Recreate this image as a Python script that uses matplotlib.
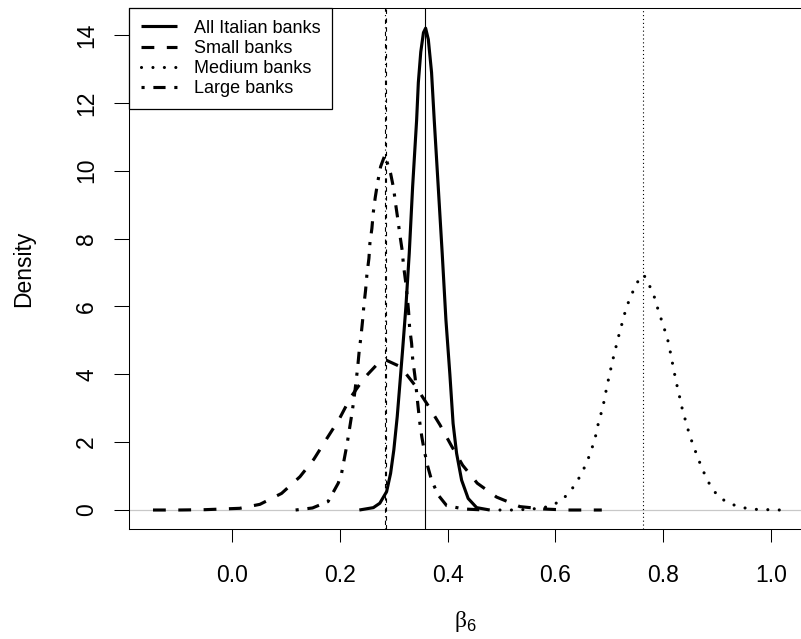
import matplotlib
matplotlib.use("Agg")
import matplotlib.pyplot as plt

plt.rcParams['font.family'] = ['Liberation Sans', 'DejaVu Sans']
plt.rcParams['mathtext.fontset'] = 'custom'
plt.rcParams['mathtext.rm'] = 'Liberation Serif'
plt.rcParams['mathtext.sf'] = 'Liberation Sans'

# posterior densities of beta_6
all_x = [0.236, 0.262, 0.274, 0.2866, 0.294, 0.300, 0.3063, 0.3113, 0.3163, 0.3224,
         0.3286, 0.3349, 0.3423, 0.3455, 0.350, 0.355, 0.359, 0.364, 0.370, 0.375,
         0.3824, 0.3898, 0.3967, 0.404, 0.410, 0.4165, 0.4258, 0.438, 0.4537, 0.478]
all_y = [0.0, 0.07, 0.20, 0.54, 1.08, 1.77, 2.75, 3.73, 4.72, 5.99,
         7.56, 9.53, 11.49, 12.6, 13.5, 14.07, 14.2, 13.87, 12.9, 11.49,
         9.53, 7.56, 5.6, 4.0, 2.55, 1.67, 0.88, 0.34, 0.07, 0.0]

small_x = [-0.147, -0.10, -0.05, 0.014, 0.0514, 0.0917, 0.1257, 0.1517, 0.175, 0.1987,
           0.2198, 0.2445, 0.273, 0.2853, 0.3126, 0.339, 0.364, 0.3856, 0.407, 0.4277,
           0.4548, 0.4908, 0.534, 0.5786, 0.62, 0.686]
small_y = [0.0, 0.0, 0.01, 0.05, 0.167, 0.49, 0.98, 1.50, 2.09, 2.68,
           3.32, 3.88, 4.36, 4.42, 4.22, 3.68, 3.07, 2.51, 1.89, 1.32,
           0.79, 0.38, 0.10, 0.03, 0.0, 0.0]

medium_x = [0.497, 0.521, 0.55, 0.575, 0.593, 0.612, 0.627, 0.640, 0.650, 0.659,
            0.666, 0.673, 0.677, 0.682, 0.688, 0.692, 0.696, 0.7006, 0.705, 0.710,
            0.715, 0.720, 0.726, 0.731, 0.739, 0.747, 0.758, 0.764, 0.773, 0.782,
            0.788, 0.7945, 0.801, 0.8075, 0.812, 0.816, 0.820, 0.824, 0.829, 0.833,
            0.8385, 0.844, 0.850, 0.857, 0.8645, 0.872, 0.881, 0.891, 0.905, 0.925,
            0.947, 0.970, 0.994, 1.017]
medium_y = [0.0, 0.0, 0.02, 0.06, 0.13, 0.295, 0.54, 0.835, 1.13, 1.43,
            1.75, 2.06, 2.39, 2.70, 3.03, 3.36, 3.68, 4.01, 4.33, 4.66,
            4.98, 5.30, 5.63, 5.95, 6.26, 6.56, 6.88, 6.93, 6.66, 6.36,
            6.03, 5.71, 5.39, 5.08, 4.75, 4.42, 4.10, 3.77, 3.45, 3.12,
            2.80, 2.48, 2.16, 1.85, 1.53, 1.23, 0.91, 0.62, 0.36, 0.18,
            0.07, 0.02, 0.01, 0.0]

large_x = [0.1177, 0.149, 0.178, 0.1968, 0.203, 0.2135, 0.2228, 0.2265, 0.230, 0.233,
           0.2358, 0.239, 0.242, 0.2445, 0.2476, 0.250, 0.2538, 0.2556, 0.2593, 0.2618,
           0.2655, 0.270, 0.2755, 0.2834, 0.294, 0.2996, 0.3033, 0.3076, 0.3113, 0.3156,
           0.318, 0.3219, 0.3249, 0.3274, 0.3293, 0.333, 0.3349, 0.3395, 0.344, 0.348,
           0.352, 0.356, 0.3627, 0.370, 0.3824, 0.398, 0.430, 0.47]
large_y = [0.0, 0.06, 0.25, 0.79, 1.08, 1.97, 2.90, 3.34, 3.80, 4.22,
           4.70, 5.11, 5.58, 6.04, 6.48, 6.93, 7.42, 7.86, 8.30, 8.76,
           9.21, 9.66, 10.12, 10.46, 9.92, 9.48, 9.02, 8.55, 8.10, 7.64,
           7.20, 6.73, 6.29, 5.85, 5.38, 4.91, 4.47, 3.90, 3.20, 2.60,
           2.15, 1.79, 1.30, 0.88, 0.44, 0.13, 0.03, 0.0]

labels = ['All Italian banks', 'Small banks', 'Medium banks', 'Large banks']
means = [0.3585, 0.2850, 0.7620, 0.2840]   # vertical reference lines

xticks = [0.0, 0.2, 0.4, 0.6, 0.8, 1.0]
yticks = [0, 2, 4, 6, 8, 10, 12, 14]

curve_styles = ['-', (0, (4.1, 4.0)), (0, (0.01, 3.65)), (0, (1.0, 2.8, 3.9, 2.8))]
vline_styles = ['-', (0, (4, 4)), (0, (1, 2.5)), (0, (1, 3, 4, 3))]

fig = plt.figure(figsize=(8.01, 6.39), dpi=100)
ax = fig.add_axes([0.1614, 0.1726, 0.8398, 0.8149])

ax.axhline(0, color='#c8c8c8', lw=0.9, zorder=1)

series = [(all_x, all_y), (small_x, small_y), (medium_x, medium_y), (large_x, large_y)]
for (xs, ys), lab, ls in zip(series, labels, curve_styles):
    cap = 'round' if ls == curve_styles[2] else 'butt'
    ax.plot(xs, ys, color='black', lw=2.25, linestyle=ls, label=lab,
            dash_capstyle=cap, solid_capstyle='butt', zorder=3)

for m, ls in zip(means, vline_styles):
    ax.axvline(m, color='black', lw=0.8, linestyle=ls, zorder=4)

ax.set_xlim(-0.191, 1.0575)
ax.set_ylim(-0.551, 14.795)

ax.set_xticks(xticks)
ax.set_xticklabels([f'{t:.1f}' for t in xticks])
ax.set_yticks(yticks)
ax.set_yticklabels([str(t) for t in yticks], rotation=90, va='center')
ax.tick_params(axis='x', direction='out', length=9.6, width=0.75, labelsize=16.5, pad=15.5)
ax.tick_params(axis='y', direction='out', length=11, width=0.75, labelsize=16.5, pad=11.5)
for sp in ax.spines.values():
    sp.set_linewidth(0.75)

ax.set_xlabel(r'$\mathrm{\beta}_{\mathsf{6}}$', fontsize=17, va='center')
ax.xaxis.set_label_coords(0.5, -0.179)
ax.set_ylabel('Density', fontsize=16.5, va='center')
ax.yaxis.set_label_coords(-0.1565, 0.5)

leg = ax.legend(loc='upper left', borderaxespad=0, fontsize=13, frameon=True,
                fancybox=False, edgecolor='black', borderpad=0.65, labelspacing=0.18,
                handlelength=1.98, handletextpad=0.95)
leg.get_frame().set_linewidth(0.9)
leg.get_frame().set_alpha(1)

fig.savefig('out.png', dpi=100)
